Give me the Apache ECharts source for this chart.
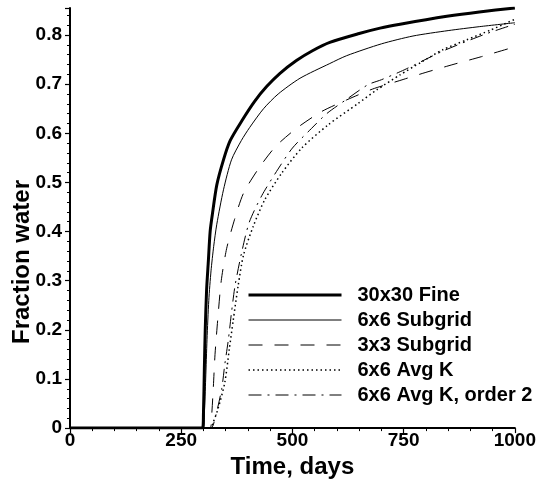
<!DOCTYPE html>
<html>
<head>
<meta charset="utf-8">
<script src="https://cdn.jsdelivr.net/npm/echarts/dist/echarts.min.js"></script>
<style>
html,body{margin:0;padding:0;background:#fff;}
#chart{width:539px;height:484px;}
</style>
</head>
<body>
<div id="chart"></div>
<script>
// Series names
var seriesNames = ['30x30 Fine', '6x6 Subgrid', '3x3 Subgrid', '6x6 Avg K', '6x6 Avg K, order 2'];

// 30x30 Fine
var fineT = [0, 298, 300, 302, 304, 307, 311, 315, 320, 330, 345, 360, 386, 415, 442, 472, 509, 545, 584, 650, 697, 742, 847, 920, 1000];
var fineV = [0, 0, 0.03, 0.12, 0.2, 0.28, 0.34, 0.4, 0.435, 0.495, 0.546, 0.585, 0.625, 0.665, 0.695, 0.722, 0.748, 0.768, 0.785, 0.803, 0.814, 0.822, 0.838, 0.847, 0.855];

// 6x6 Subgrid
var sub6T = [0, 300, 302, 305, 308, 312, 317, 323, 330, 345, 363, 385, 404, 435, 468, 517, 584, 622, 700, 771, 850, 920, 1000];
var sub6V = [0, 0, 0.03, 0.1, 0.18, 0.26, 0.32, 0.37, 0.415, 0.485, 0.546, 0.585, 0.612, 0.65, 0.68, 0.712, 0.742, 0.758, 0.782, 0.798, 0.809, 0.817, 0.825];

// 3x3 Subgrid
var sub3T = [0, 315, 318, 322, 326, 332, 340, 352, 370, 390, 423, 462, 509, 565, 622, 680, 740, 800, 861, 925, 1000];
var sub3V = [0, 0, 0.02, 0.08, 0.15, 0.22, 0.3, 0.365, 0.425, 0.478, 0.527, 0.573, 0.61, 0.644, 0.668, 0.69, 0.707, 0.724, 0.74, 0.756, 0.776];

// 6x6 Avg K
var avgT = [0, 316, 322, 333, 348, 358, 367, 378, 390, 412, 438, 476, 521, 580, 648, 689, 742, 790, 838, 891, 945, 1000];
var avgV = [0, 0, 0.012, 0.04, 0.093, 0.16, 0.22, 0.29, 0.352, 0.411, 0.465, 0.519, 0.57, 0.617, 0.661, 0.688, 0.719, 0.745, 0.77, 0.79, 0.81, 0.832];

// 6x6 Avg K, order 2
var ord2T = [0, 316, 326, 341, 348, 356, 363, 371, 386, 403, 431, 464, 500, 543, 577, 620, 670, 700, 751, 840, 934, 1000];
var ord2V = [0, 0, 0.02, 0.08, 0.13, 0.18, 0.235, 0.29, 0.358, 0.419, 0.473, 0.522, 0.57, 0.61, 0.64, 0.668, 0.699, 0.709, 0.729, 0.768, 0.802, 0.822];

// Axis settings
var xTicks = [0, 250, 500, 750, 1000];
var yTicks = [0, 0.1, 0.2, 0.3, 0.4, 0.5, 0.6, 0.7, 0.8];

function pairs(t, v) { return t.map(function (x, i) { return [x, v[i]]; }); }

var FONT = '"Liberation Sans", Arial, sans-serif';
var chart = echarts.init(document.getElementById('chart'), null, {renderer: 'canvas'});

var widths = [3, 1, 1, 1.5, 1];
var dashes = ['solid', 'solid', [14, 12], [1.5, 3], [13, 6, 2, 6]];
var tArr = [fineT, sub6T, sub3T, avgT, ord2T];
var vArr = [fineV, sub6V, sub3V, avgV, ord2V];

var series = seriesNames.map(function (name, i) {
  return {
    name: name, type: 'line', data: pairs(tArr[i], vArr[i]),
    showSymbol: false, symbol: 'none', smooth: 0.25,
    lineStyle: {color: '#000', width: widths[i], type: dashes[i]},
    itemStyle: {color: '#000'},
    z: 3
  };
});

var legendData = seriesNames.map(function (name, i) {
  return {name: name, lineStyle: {width: widths[i], type: dashes[i], color: '#000'}};
});

var option = {
  animation: false,
  backgroundColor: '#fff',
  grid: {left: 70, right: 24, top: 8, bottom: 55, containLabel: false},
  xAxis: {
    type: 'value', min: xTicks[0], max: xTicks[xTicks.length - 1], interval: 250,
    name: 'Time, days', nameLocation: 'middle', nameGap: 24,
    nameTextStyle: {fontFamily: FONT, fontWeight: 'bold', fontSize: 24, color: '#000'},
    axisLine: {lineStyle: {color: '#000', width: 2}},
    axisTick: {inside: false, length: 5, lineStyle: {color: '#000', width: 1.2}},
    minorTick: {show: true, splitNumber: 5, length: 3, lineStyle: {color: '#000', width: 1}},
    splitLine: {show: false},
    axisLabel: {margin: 3, fontFamily: FONT, fontWeight: 'bold', fontSize: 19, color: '#000',
      formatter: function (val) { return String(val); }}
  },
  yAxis: {
    type: 'value', min: 0, max: 0.855, interval: 0.1,
    axisLine: {show: true, lineStyle: {color: '#000', width: 2}},
    axisTick: {show: true, inside: false, length: 5, lineStyle: {color: '#000', width: 1.2}},
    minorTick: {show: true, splitNumber: 5, length: 3, lineStyle: {color: '#000', width: 1}},
    splitLine: {show: false},
    axisLabel: {
      margin: 8, fontFamily: FONT, fontWeight: 'bold', fontSize: 19, color: '#000',
      formatter: function (val) {
        for (var i = 0; i < yTicks.length; i++) {
          if (Math.abs(val - yTicks[i]) < 1e-6) return String(yTicks[i]);
        }
        return '';
      }
    }
  },
  legend: {
    orient: 'vertical', left: 242, top: 280,
    itemWidth: 93, itemHeight: 14, itemGap: 5,
    selectedMode: false,
    data: legendData,
    itemStyle: {opacity: 0, color: 'rgba(0,0,0,0)', borderWidth: 0},
    textStyle: {fontFamily: FONT, fontWeight: 'bold', fontSize: 20, color: '#000', lineHeight: 20, padding: [0, 0, 0, 11]}
  },
  graphic: [{
    type: 'text', x: 22, y: 262, rotation: Math.PI / 2,
    style: {text: 'Fraction water', font: 'bold 24px ' + FONT, fill: '#000',
      textAlign: 'center', textVerticalAlign: 'middle', align: 'center', verticalAlign: 'middle'}
  }],
  series: series
};
chart.setOption(option);
</script>
</body>
</html>
